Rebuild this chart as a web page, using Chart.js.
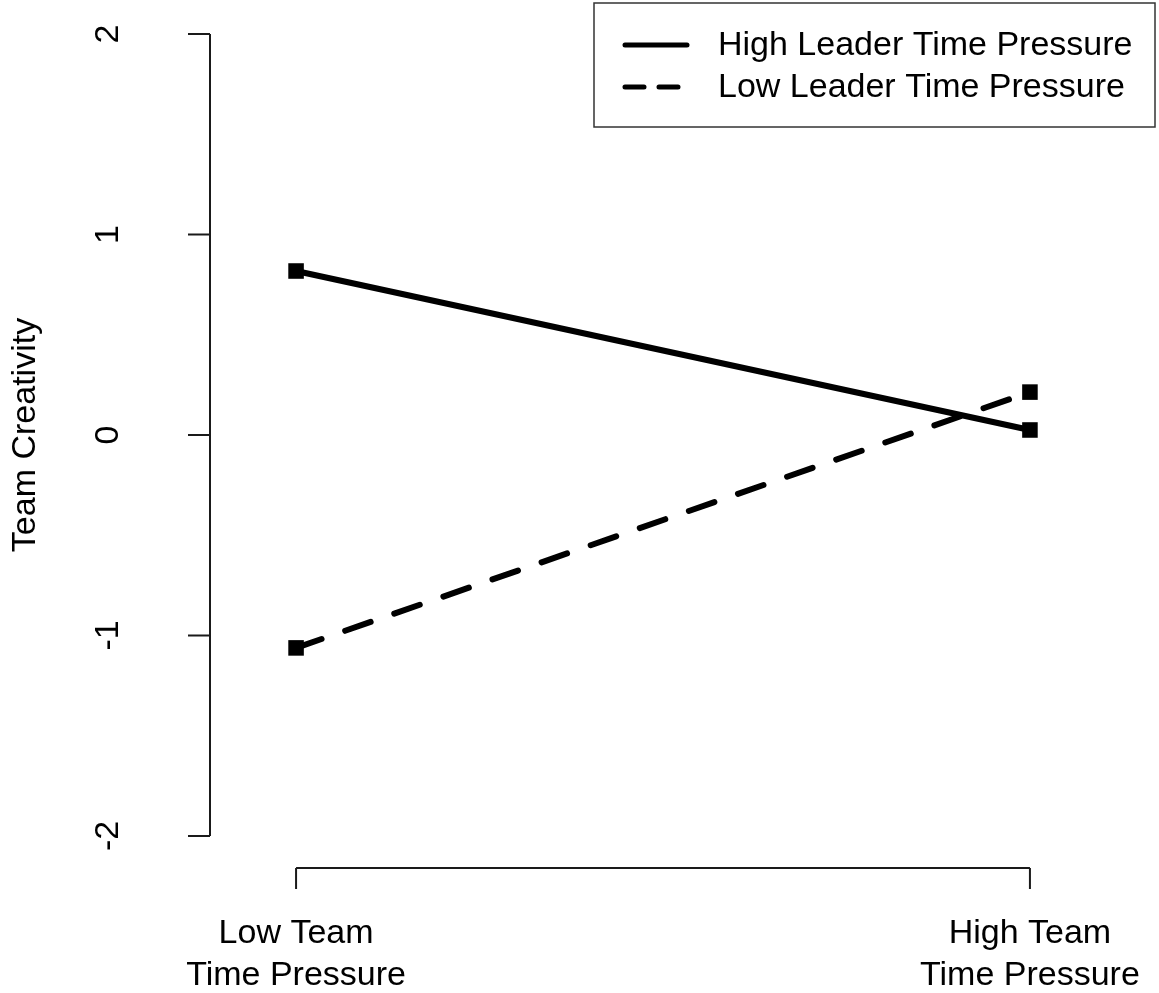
<!DOCTYPE html>
<html>
<head>
<meta charset="utf-8">
<title>Team Creativity</title>
<script src="https://cdn.jsdelivr.net/npm/chart.js@4"></script>
<style>
  html, body { margin: 0; padding: 0; background: #fff; }
  #wrap { width: 1159px; height: 993px; }
</style>
</head>
<body>
<div id="wrap"><canvas id="chart" width="1159" height="993"></canvas></div>
<script>
// Data
const categories = [['Low Team', 'Time Pressure'], ['High Team', 'Time Pressure']];
const categoryPos = [0, 1];
const seriesNames = ['High Leader Time Pressure', 'Low Leader Time Pressure'];
const highLeader = [0.818, 0.025];
const lowLeader = [-1.062, 0.214];
const yTicks = [-2, -1, 0, 1, 2];
const yTitle = 'Team Creativity';

const FONT = '34px "Liberation Sans", Arial, sans-serif';
const INK = '#000';

// R-style detached axes, labels and legend
const rAxes = {
  id: 'rAxes',
  afterDraw(chart) {
    const ctx = chart.ctx;
    const xs = chart.scales.x;
    const ys = chart.scales.y;
    ctx.save();
    ctx.strokeStyle = '#1a1a1a';
    ctx.fillStyle = INK;
    ctx.lineWidth = 2;
    ctx.font = FONT;

    // y axis
    const axX = 210;
    const yTop = ys.getPixelForValue(yTicks[yTicks.length - 1]);
    const yBot = ys.getPixelForValue(yTicks[0]);
    ctx.beginPath();
    ctx.moveTo(axX, yTop);
    ctx.lineTo(axX, yBot);
    yTicks.forEach(v => {
      const p = ys.getPixelForValue(v);
      ctx.moveTo(axX, p);
      ctx.lineTo(axX - 22, p);
    });
    ctx.stroke();

    ctx.textAlign = 'center';
    ctx.textBaseline = 'alphabetic';
    yTicks.forEach(v => {
      const p = ys.getPixelForValue(v);
      ctx.save();
      ctx.translate(118, p);
      ctx.rotate(-Math.PI / 2);
      ctx.fillText(String(v), 0, 0);
      ctx.restore();
    });

    // y title
    ctx.save();
    ctx.translate(35, ys.getPixelForValue(0));
    ctx.rotate(-Math.PI / 2);
    ctx.fillText(yTitle, 0, 0);
    ctx.restore();

    // x axis
    const axY = 868;
    const x0 = xs.getPixelForValue(categoryPos[0]);
    const x1 = xs.getPixelForValue(categoryPos[categoryPos.length - 1]);
    ctx.beginPath();
    ctx.moveTo(x0, axY);
    ctx.lineTo(x1, axY);
    categoryPos.forEach(v => {
      const p = xs.getPixelForValue(v);
      ctx.moveTo(p, axY);
      ctx.lineTo(p, axY + 21);
    });
    ctx.stroke();

    categoryPos.forEach((v, i) => {
      const p = xs.getPixelForValue(v);
      categories[i].forEach((line, j) => {
        ctx.fillText(line, p, 943 + j * 42);
      });
    });

    // legend
    ctx.lineWidth = 1.5;
    ctx.strokeStyle = '#333';
    ctx.strokeRect(594, 3, 561, 124);
    ctx.lineWidth = 5;
    ctx.strokeStyle = INK;
    ctx.lineCap = 'round';
    const rows = [45, 87];
    ctx.beginPath();
    ctx.moveTo(625, rows[0]);
    ctx.lineTo(687, rows[0]);
    ctx.stroke();
    ctx.setLineDash([19, 15]);
    ctx.beginPath();
    ctx.moveTo(625, rows[1]);
    ctx.lineTo(687, rows[1]);
    ctx.stroke();
    ctx.setLineDash([]);
    ctx.textAlign = 'left';
    ctx.textBaseline = 'middle';
    seriesNames.forEach((name, i) => {
      ctx.fillText(name, 718, rows[i] + 1);
    });
    ctx.restore();
  }
};

function toPoints(vals) {
  return vals.map((v, i) => ({ x: categoryPos[i], y: v }));
}

new Chart(document.getElementById('chart'), {
  type: 'line',
  data: {
    datasets: [
      {
        label: seriesNames[0],
        data: toPoints(highLeader),
        borderColor: INK,
        borderWidth: 6,
        tension: 0,
        pointStyle: 'rect',
        pointRadius: 11,
        pointBorderWidth: 0,
        pointBackgroundColor: INK
      },
      {
        label: seriesNames[1],
        data: toPoints(lowLeader),
        borderColor: INK,
        borderWidth: 6,
        borderDash: [27, 25],
        borderCapStyle: 'round',
        tension: 0,
        pointStyle: 'rect',
        pointRadius: 11,
        pointBorderWidth: 0,
        pointBackgroundColor: INK
      }
    ]
  },
  options: {
    responsive: false,
    animation: false,
    layout: { padding: { left: 208, right: 41, top: 14, bottom: 137 } },
    plugins: {
      legend: { display: false },
      tooltip: { enabled: false }
    },
    scales: {
      x: { type: 'linear', min: -0.12, max: 1.12, display: false },
      y: { min: -2.1, max: 2.1, display: false }
    }
  },
  plugins: [rAxes]
});
</script>
</body>
</html>
